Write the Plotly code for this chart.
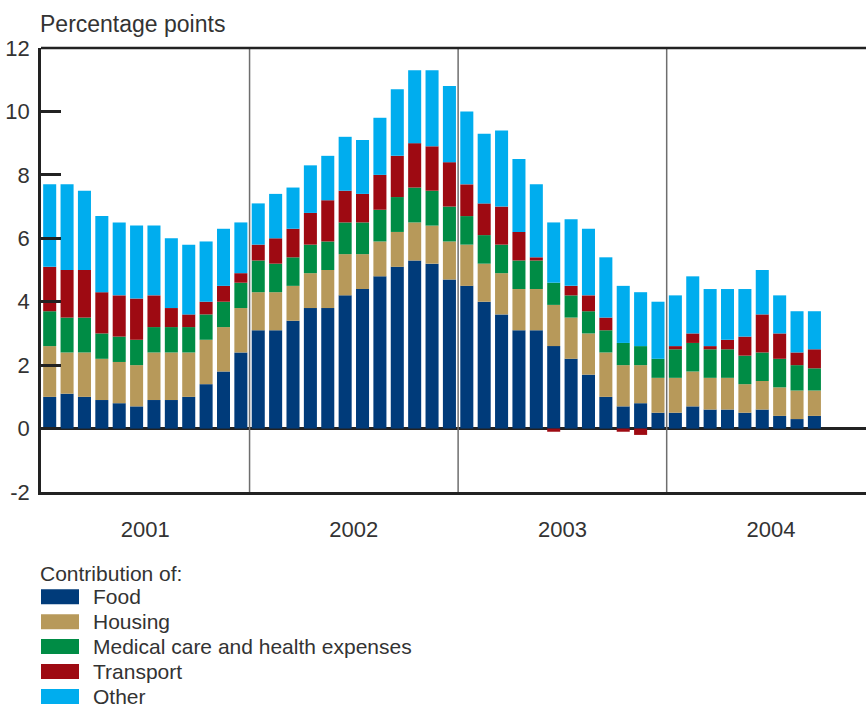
import plotly.graph_objects as go

years = ["2001", "2002", "2003", "2004"]
months_per_year = [12, 12, 12, 9]

food = [1.0, 1.1, 1.0, 0.9, 0.8, 0.7, 0.9, 0.9, 1.0, 1.4, 1.8, 2.4,
        3.1, 3.1, 3.4, 3.8, 3.8, 4.2, 4.4, 4.8, 5.1, 5.3, 5.2, 4.7,
        4.5, 4.0, 3.6, 3.1, 3.1, 2.6, 2.2, 1.7, 1.0, 0.7, 0.8, 0.5,
        0.5, 0.7, 0.6, 0.6, 0.5, 0.6, 0.4, 0.3, 0.4]
housing = [1.6, 1.3, 1.4, 1.3, 1.3, 1.3, 1.5, 1.5, 1.4, 1.4, 1.4, 1.4,
           1.2, 1.2, 1.1, 1.1, 1.2, 1.3, 1.1, 1.1, 1.1, 1.2, 1.2, 1.2,
           1.3, 1.2, 1.3, 1.3, 1.3, 1.3, 1.3, 1.3, 1.4, 1.3, 1.2, 1.1,
           1.1, 1.1, 1.0, 1.0, 0.9, 0.9, 0.9, 0.9, 0.8]
medical = [1.1, 1.1, 1.1, 0.8, 0.8, 0.8, 0.8, 0.8, 0.8, 0.8, 0.8, 0.8,
           1.0, 0.9, 0.9, 0.9, 0.9, 1.0, 1.0, 1.0, 1.1, 1.1, 1.1, 1.1,
           0.9, 0.9, 0.9, 0.9, 0.9, 0.7, 0.7, 0.7, 0.7, 0.7, 0.6, 0.6,
           0.9, 0.9, 0.9, 0.9, 0.9, 0.9, 0.9, 0.8, 0.7]
transport = [1.4, 1.5, 1.5, 1.3, 1.3, 1.3, 1.0, 0.6, 0.4, 0.4, 0.5, 0.3,
             0.5, 0.8, 0.9, 1.0, 1.3, 1.0, 0.9, 1.1, 1.3, 1.4, 1.4, 1.4,
             1.0, 1.0, 1.2, 0.9, 0.1, -0.1, 0.3, 0.5, 0.4, -0.1, -0.2, 0.0,
             0.1, 0.3, 0.1, 0.3, 0.6, 1.2, 0.8, 0.4, 0.6]
other = [2.6, 2.7, 2.5, 2.4, 2.3, 2.3, 2.2, 2.2, 2.2, 1.9, 1.8, 1.6,
         1.3, 1.4, 1.3, 1.5, 1.4, 1.7, 1.7, 1.8, 2.1, 2.3, 2.4, 2.4,
         2.3, 2.2, 2.4, 2.3, 2.3, 1.9, 2.1, 2.1, 1.9, 1.8, 1.7, 1.8,
         1.6, 1.8, 1.8, 1.6, 1.5, 1.4, 1.2, 1.3, 1.2]

series_names = ["Food", "Housing", "Medical care and health expenses", "Transport", "Other"]
series_values = [food, housing, medical, transport, other]
colors = ["#003b7a", "#b7995a", "#008c45", "#9e0a12", "#00adee"]

y_ticks = [-2, 0, 2, 4, 6, 8, 10, 12]
y_tick_labels = ["-2", "0", "2", "4", "6", "8", "10", "12"]

x = list(range(len(food)))
TXT = "#333333"
FONT = "Liberation Sans"

fig = go.Figure()
for name, vals, col in zip(series_names, series_values, colors):
    fig.add_trace(go.Bar(x=x, y=vals, name=name, marker=dict(color=col, line=dict(width=0)),
                         showlegend=False))

# plot area in pixels
L, R, T, B = 41, 866, 48, 492
W, H = 866, 704
def px(xp):
    return (xp - L) / (R - L)
def py(yp):
    return (B - yp) / (B - T)

shapes = []
for i in range(1, len(years)):
    xv = sum(months_per_year[:i]) - 0.5
    shapes.append(dict(type="line", xref="x", yref="paper", x0=xv, x1=xv, y0=0, y1=1,
                       line=dict(color="#6e6e6e", width=1.5)))
shapes.append(dict(type="line", xref="paper", yref="paper", x0=0, x1=1, y0=1, y1=1,
                   line=dict(color="#222222", width=2.5)))

annotations = []
annotations.append(dict(text="Percentage points", xref="paper", yref="paper", x=px(38), y=py(24),
                        xanchor="left", yanchor="middle", showarrow=False,
                        font=dict(family=FONT, size=23, color=TXT)))
annotations.append(dict(text="Contribution of:", xref="paper", yref="paper", x=px(38), y=py(573),
                        xanchor="left", yanchor="middle", showarrow=False,
                        font=dict(family=FONT, size=21, color=TXT)))
row0 = 596.8
step = 24.9
for k, (name, col) in enumerate(zip(series_names, colors)):
    cy = row0 + k * step
    shapes.append(dict(type="rect", xref="paper", yref="paper", x0=px(41), x1=px(79),
                       y0=py(cy - 7.5), y1=py(cy + 7.5), fillcolor=col, line=dict(width=0)))
    annotations.append(dict(text=name, xref="paper", yref="paper", x=px(91), y=py(cy),
                            xanchor="left", yanchor="middle", showarrow=False,
                            font=dict(family=FONT, size=21, color=TXT)))

year_pos = []
start = 0
for n in months_per_year:
    year_pos.append(start + 5.5)
    start += 12

fig.update_layout(
    width=W, height=H,
    margin=dict(l=L, r=W - R, t=T, b=H - B, pad=0),
    paper_bgcolor="white", plot_bgcolor="white",
    barmode="relative", bargap=0.25,
    shapes=shapes, annotations=annotations,
    font=dict(family=FONT, size=21, color=TXT),
    xaxis=dict(range=[-0.5, (R - L) / 17.38 - 0.5], showgrid=False, zeroline=False,
               showline=True, linecolor="#222222", linewidth=2.5, mirror=False,
               tickmode="array", tickvals=year_pos, ticktext=years, ticks="",
               ticklabelstandoff=16, tickfont=dict(family=FONT, size=22, color=TXT)),
    yaxis=dict(range=[-2, 12], showgrid=False, zeroline=True, zerolinecolor="#222222",
               zerolinewidth=2.5, showline=True, linecolor="#222222", linewidth=2.5,
               tickmode="array", tickvals=y_ticks, ticktext=y_tick_labels,
               ticks="inside", ticklen=20,
               tickwidth=2.5, tickcolor="#222222", ticklabelstandoff=4,
               tickfont=dict(family=FONT, size=22, color=TXT)),
)

fig.write_html("out.html", config={"displayModeBar": False},
               post_script="document.body.style.margin='0';document.body.style.overflow='hidden';")
